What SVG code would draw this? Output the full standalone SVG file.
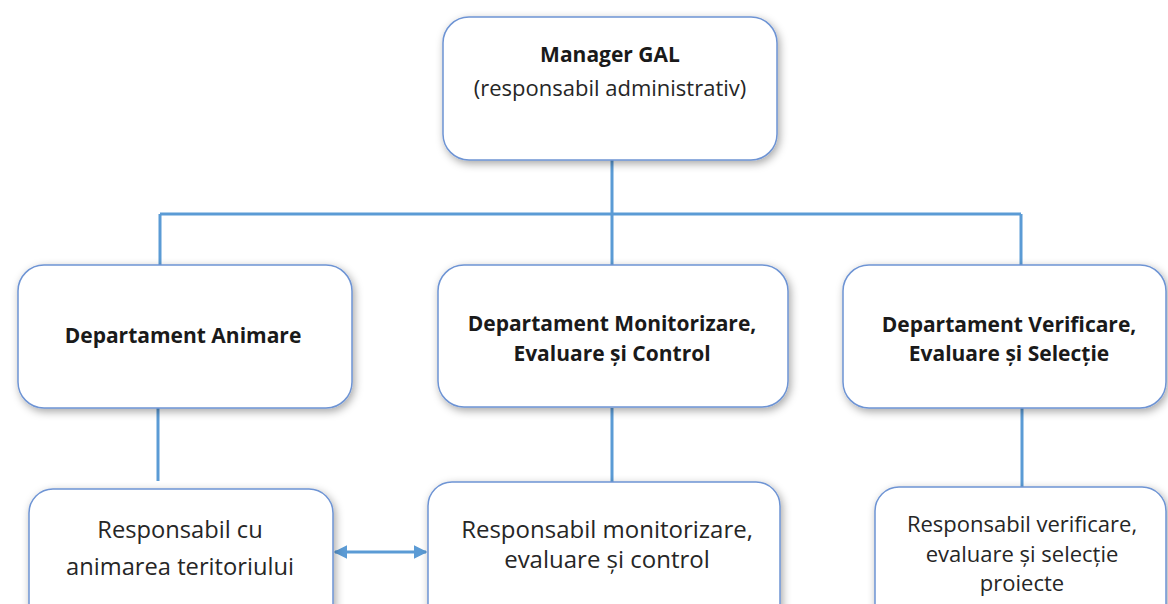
<svg xmlns="http://www.w3.org/2000/svg" width="1168" height="604" viewBox="0 0 1168 604">
<defs>
<filter id="sh" x="-10%" y="-10%" width="125%" height="130%">
<feDropShadow dx="2" dy="3" stdDeviation="4" flood-color="#000" flood-opacity="0.35"/>
</filter>
<marker id="ah" viewBox="0 0 10 10" refX="9" refY="5" markerWidth="4.5" markerHeight="4.5" orient="auto-start-reverse" markerUnits="strokeWidth">
<path d="M0,0 L10,5 L0,10 z" fill="#5B9BD5"/>
</marker>
</defs>
<style>
.box{fill:#fff;stroke:#6E94D4;stroke-width:1.5;filter:url(#sh)}
.ln{fill:none;stroke:#5B9BD5;stroke-width:3}
.b{font-family:"Open Sans",Lato,sans-serif;font-weight:bold;fill:#1a1a1a;text-anchor:middle}
.r{font-family:"Open Sans",Lato,sans-serif;fill:#262626;text-anchor:middle}
</style>
<rect width="1168" height="604" fill="#fff"/>
<g id="connectors">
<path class="ln" d="M612,160 V214 M160,214 H1021 M160,214 V265 M612,214 V265 M1021,214 V265"/>
<path class="ln" d="M158,408 V481 M612,408 V482 M1022,408 V487"/>
<path class="ln" d="M335,552 H426" marker-start="url(#ah)" marker-end="url(#ah)"/>
</g>
<g id="manager">
<rect class="box" x="443" y="17" width="334" height="143" rx="26"/>
<text class="b" x="610" y="62" font-size="21">Manager GAL</text>
<text class="r" x="610" y="96" font-size="22">(responsabil administrativ)</text>
</g>
<g id="dept-animare">
<rect class="box" x="18" y="265" width="334" height="143" rx="26"/>
<text class="b" x="183" y="343" font-size="21">Departament Animare</text>
</g>
<g id="dept-monitorizare">
<rect class="box" x="438" y="265" width="350" height="142" rx="26"/>
<text class="b" x="612" y="331" font-size="21">Departament Monitorizare,</text>
<text class="b" x="612" y="361" font-size="21">Evaluare și Control</text>
</g>
<g id="dept-verificare">
<rect class="box" x="843" y="265" width="323" height="143" rx="26"/>
<text class="b" x="1009" y="332" font-size="21">Departament Verificare,</text>
<text class="b" x="1009" y="361" font-size="21">Evaluare și Selecție</text>
</g>
<g id="resp-animare">
<rect class="box" x="29" y="489" width="304" height="140" rx="24"/>
<text class="r" x="180" y="538" font-size="23.7">Responsabil cu</text>
<text class="r" x="180" y="575" font-size="23.7">animarea teritoriului</text>
</g>
<g id="resp-monitorizare">
<rect class="box" x="428" y="482" width="352" height="150" rx="24"/>
<text class="r" x="607" y="538" font-size="24">Responsabil monitorizare,</text>
<text class="r" x="607" y="568" font-size="24">evaluare și control</text>
</g>
<g id="resp-verificare">
<rect class="box" x="875" y="487" width="291" height="150" rx="24"/>
<text class="r" x="1022" y="532" font-size="22">Responsabil verificare,</text>
<text class="r" x="1022" y="562" font-size="22">evaluare și selecție</text>
<text class="r" x="1022" y="591" font-size="22">proiecte</text>
</g>
</svg>
